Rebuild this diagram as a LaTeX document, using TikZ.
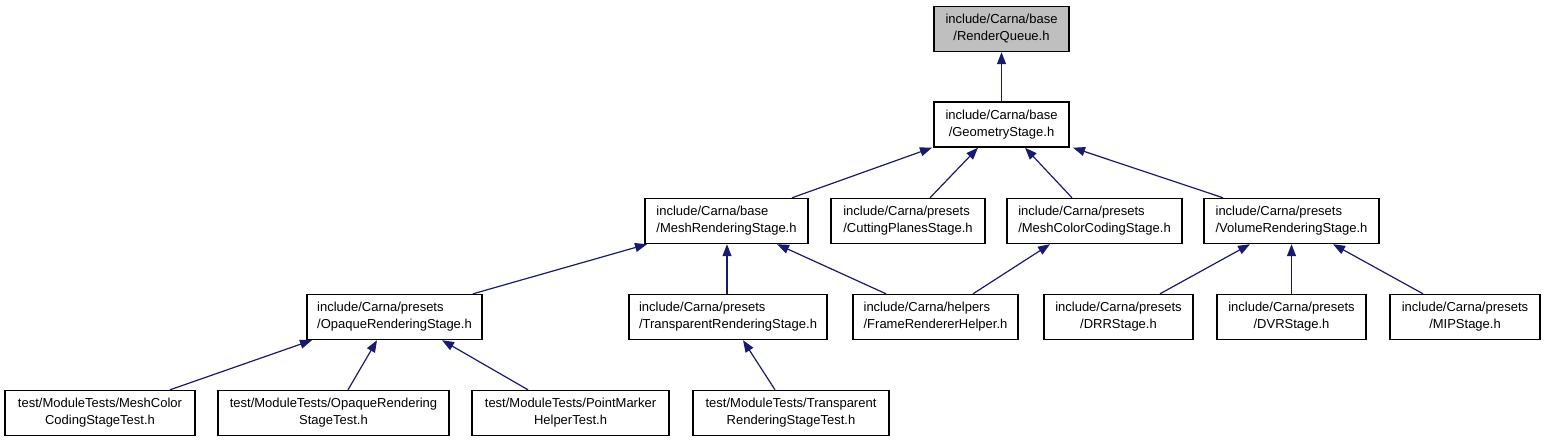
\documentclass[tikz,border=0pt]{standalone}
\usepackage{fontspec}
\setmainfont{Liberation Sans}
\usetikzlibrary{arrows.meta,calc}
\definecolor{cedge}{HTML}{191970}
\definecolor{ccur}{HTML}{BFBFBF}
\tikzset{
  hbox/.style={rectangle, draw=black, fill=white, line width=0.7pt, align=center,
              font=\fontsize{6.5}{8.5}\selectfont, minimum height=22.5pt, inner sep=0pt},
  hleft/.style={hbox, align=left},
  hcur/.style={hbox, fill=ccur},
  hfl/.style={-{Triangle[length=6pt,width=4.5pt]}, draw=cedge, line width=0.6pt}
}

\begin{document}
\begin{tikzpicture}[x=0.5pt, y=-0.5pt]

\useasboundingbox (0,0) rectangle (1545,443);

\node[hcur, minimum width=67.5pt] (rq) at (1001.5,29) {include/Carna/base\\/RenderQueue.h};
\node[hbox, minimum width=67.5pt] (geo) at (1001.5,124.5) {include/Carna/base\\/GeometryStage.h};

\node[hleft, minimum width=81.5pt] (mrs) at (726.5,221) {include/Carna/base\\/MeshRenderingStage.h};
\node[hleft, minimum width=77pt] (cps) at (908,221) {include/Carna/presets\\/CuttingPlanesStage.h};
\node[hleft, minimum width=87.5pt] (mcc) at (1094.5,221) {include/Carna/presets\\/MeshColorCodingStage.h};
\node[hleft, minimum width=87.5pt] (vrs) at (1291.5,221) {include/Carna/presets\\/VolumeRenderingStage.h};

\node[hleft, minimum width=87.5pt] (ors) at (394.5,317) {include/Carna/presets\\/OpaqueRenderingStage.h};
\node[hleft, minimum width=99pt] (trs) at (728,317) {include/Carna/presets\\/TransparentRenderingStage.h};
\node[hleft, minimum width=82.5pt] (frh) at (935.5,317) {include/Carna/helpers\\/FrameRendererHelper.h};
\node[hbox, minimum width=74.5pt] (drr) at (1118.5,317) {include/Carna/presets\\/DRRStage.h};
\node[hbox, minimum width=74.5pt] (dvr) at (1291.5,317) {include/Carna/presets\\/DVRStage.h};
\node[hbox, minimum width=75pt] (mip) at (1465,317) {include/Carna/presets\\/MIPStage.h};

\node[hbox, minimum width=95pt] (tmcc) at (100,413) {test/ModuleTests/MeshColor\\CodingStageTest.h};
\node[hbox, minimum width=115.5pt] (tors) at (333.5,413) {test/ModuleTests/OpaqueRendering\\StageTest.h};
\node[hbox, minimum width=98.5pt] (tpm) at (570.5,413) {test/ModuleTests/PointMarker\\HelperTest.h};
\node[hbox, minimum width=98pt] (ttrs) at (791,413) {test/ModuleTests/Transparent\\RenderingStageTest.h};

\draw[hfl] (geo.north) -- (rq.south);

\draw[hfl] ($(mrs.north)+(65.5,0)$) -- ($(geo.south)+(-69.5,0)$);
\draw[hfl] ($(cps.north)+(22,0)$) -- ($(geo.south)+(-23.5,0)$);
\draw[hfl] ($(mcc.north)+(-22.5,0)$) -- ($(geo.south)+(23.5,0)$);
\draw[hfl] ($(vrs.north)+(-68.5,0)$) -- ($(geo.south)+(71.5,0)$);

\draw[hfl] ($(ors.north)+(78.5,0)$) -- ($(mrs.south)+(-79.5,0)$);
\draw[hfl] ($(trs.north)+(-1,0)$) -- ($(mrs.south)+(0.5,0)$);
\draw[hfl] ($(frh.north)+(-49.5,0)$) -- ($(mrs.south)+(50.5,0)$);
\draw[hfl] ($(frh.north)+(37.5,0)$) -- ($(mcc.south)+(-44.5,0)$);

\draw[hfl] ($(drr.north)+(41.5,0)$) -- ($(vrs.south)+(-41.5,0)$);
\draw[hfl] (dvr.north) -- (vrs.south);
\draw[hfl] ($(mip.north)+(-42,0)$) -- ($(vrs.south)+(41.5,0)$);

\draw[hfl] ($(tmcc.north)+(70,0)$) -- ($(ors.south)+(-82.5,0)$);
\draw[hfl] ($(tors.north)+(14.5,0)$) -- ($(ors.south)+(-17.5,0)$);
\draw[hfl] ($(tpm.north)+(-42.5,0)$) -- ($(ors.south)+(47.5,0)$);
\draw[hfl] ($(ttrs.north)+(-16,0)$) -- ($(trs.south)+(15,0)$);

\end{tikzpicture}
\end{document}
